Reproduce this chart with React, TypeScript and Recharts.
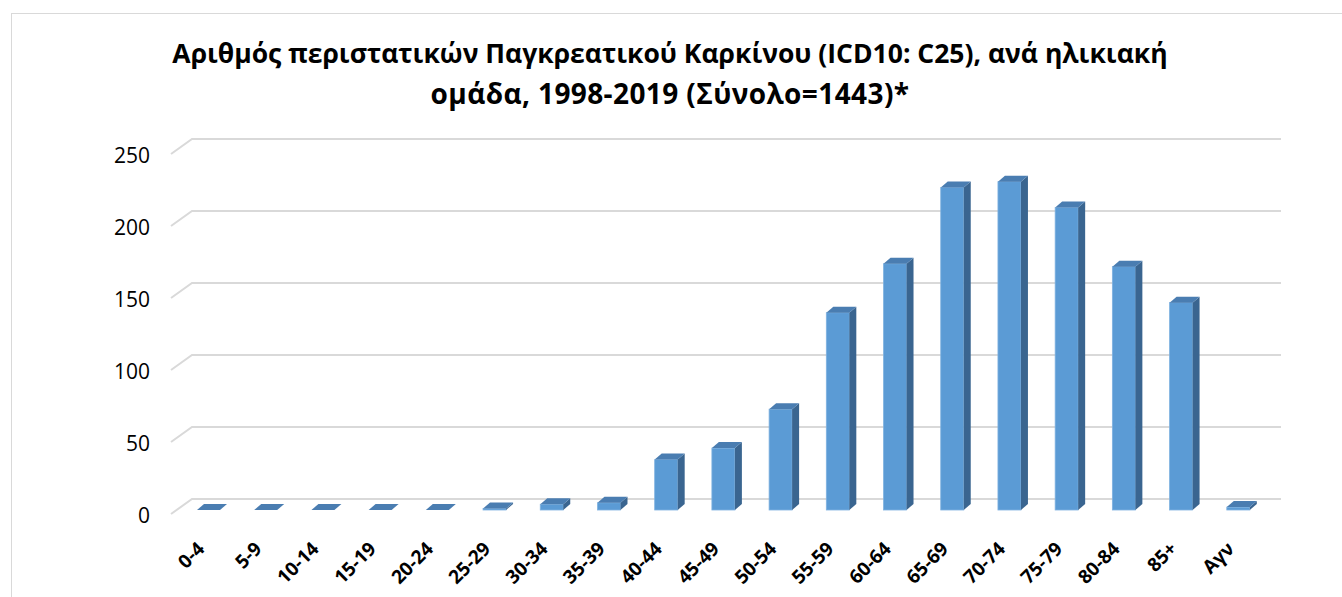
import React from 'react';
import { BarChart, Bar, XAxis, YAxis, CartesianGrid } from 'recharts';

const categories = ['0-4', '5-9', '10-14', '15-19', '20-24', '25-29', '30-34', '35-39', '40-44', '45-49', '50-54', '55-59', '60-64', '65-69', '70-74', '75-79', '80-84', '85+', 'Αγν'];
const cases = [0, 0, 0, 0, 0, 1, 4, 5, 35, 43, 70, 137, 171, 224, 228, 210, 169, 144, 2];
const yTicks = [0, 50, 100, 150, 200, 250];
const titleLines = ['Αριθμός περιστατικών Παγκρεατικού Καρκίνου (ICD10: C25), ανά ηλικιακή', 'ομάδα, 1998-2019 (Σύνολο=1443)*'];

const data = categories.map((c, i) => ({ category: c, value: cases[i] }));

const FONT = '"Open Sans", "Noto Sans", sans-serif';

const Bar3D = (props: any) => {
  const { x, y, width, height } = props;
  if (x == null || y == null) return null;
  const dx = 7;
  const dy = 6;
  const h = Math.max(0, height || 0);
  const bottom = y + h;
  const top = `M${x},${y} L${x + dx},${y - dy} L${x + width + dx},${y - dy} L${x + width},${y} Z`;
  const side = `M${x + width},${y} L${x + width + dx},${y - dy} L${x + width + dx},${bottom - dy} L${x + width},${bottom} Z`;
  return (
    <g>
      {h > 0 && <rect x={x} y={y} width={width} height={h} fill="#5B9BD5" stroke="#7FB2E0" strokeWidth={0.8} />}
      {h > 0 && <path d={side} fill="#3A6590" />}
      <path d={top} fill="#4A7DB1" />
    </g>
  );
};

const GridLine = (p: any) => {
  const { x1, x2, y1, key } = p;
  const d = `M${x1 - 9},${y1 + 4} L${x1 + 12},${y1 - 11} L${x2 + 14},${y1 - 11}`;
  return <path key={key} d={d} fill="none" stroke="#D9D9D9" strokeWidth={2} />;
};

const YTick = (p: any) => {
  const { y, payload } = p;
  return (
    <text x={150} y={y + 5} textAnchor="end" dominantBaseline="central" fontFamily={FONT} fontSize={21} fill="#000">
      {payload.value}
    </text>
  );
};

const XTick = (p: any) => {
  const { x, y, payload } = p;
  const bx = x - 3;
  const by = y + 32;
  return (
    <g transform={`translate(${bx},${by})`}>
      <g transform="rotate(-45)">
        <text x={0} y={0} textAnchor="end" fontFamily={FONT} fontSize={19} fontWeight={700} fill="#000">
          {payload.value}
        </text>
      </g>
    </g>
  );
};

export default function App() {
  return (
    <div style={{ position: 'absolute', left: 0, top: 0, width: 1342, height: 597, background: '#fff', overflow: 'hidden' }}>
      <div style={{ position: 'absolute', left: 11, top: 13, width: 1340, height: 600, border: '1px solid #D9D9D9', boxSizing: 'border-box' }} />
      <svg width={1342} height={130} style={{ position: 'absolute', left: 0, top: 0 }}>
        <text x={670} y={63} textAnchor="middle" fontFamily={FONT} fontSize={26.5} fontWeight={700} fill="#000">{titleLines[0]}</text>
        <text x={670} y={104} textAnchor="middle" fontFamily={FONT} fontSize={28} fontWeight={700} letterSpacing={0.4} fill="#000">{titleLines[1]}</text>
      </svg>
      <div style={{ position: 'absolute', left: 0, top: 0 }}>
        <BarChart width={1342} height={597} data={data} margin={{ top: 150, right: 75, bottom: 0, left: 0 }}>
          <CartesianGrid vertical={false} horizontal={GridLine} />
          <YAxis width={180} domain={[0, 250]} ticks={yTicks} axisLine={false} tickLine={false} tick={YTick} interval={0} />
          <XAxis dataKey="category" height={87} axisLine={false} tickLine={false} interval={0} tick={XTick} />
          <Bar dataKey="value" barSize={23} shape={Bar3D} isAnimationActive={false} />
        </BarChart>
      </div>
    </div>
  );
}
